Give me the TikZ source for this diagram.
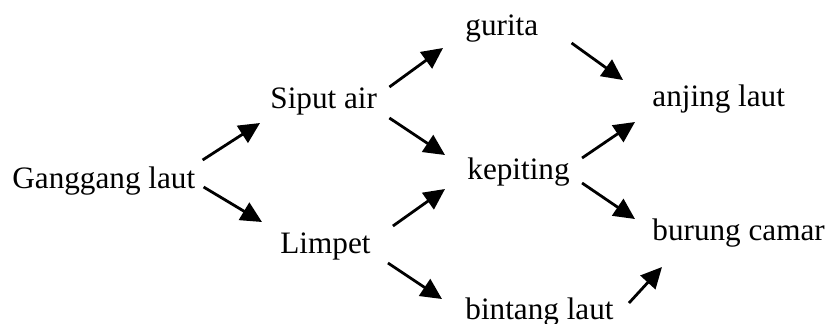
\documentclass[tikz,border=0pt]{standalone}
\usepackage{fontspec}
\setmainfont{Liberation Serif}
\usetikzlibrary{arrows.meta,calc}
\begin{document}
\begin{tikzpicture}[x=0.5pt,y=-0.5pt,
  lbl/.style={anchor=base west,inner sep=0pt,font=\fontsize{15.6pt}{18pt}\selectfont},
  arr/.style={line width=1.4pt,-{Triangle[length=10.5pt,width=10pt]}}]
\useasboundingbox[fill=white] (0,0) rectangle (828,323);
% species
\node[lbl] (gl) at (12,188) {Ganggang laut};
\node[lbl] (sa) at (270,108) {Siput air};
\node[lbl] (li) at (280,253) {Limpet};
\node[lbl] (gu) at (465,35) {gurita};
\node[lbl] (ke) at (467,179) {kepiting};
\node[lbl] (an) at (652,106) {anjing laut};
\node[lbl] (bi) at (465,319) {bintang laut};
\node[lbl] (bu) at (652,240) {burung camar};
% feeding links
\draw[arr] ($(gl.base east)+(7,-28)$) -- ($(sa.base west)+(-10,15)$);
\draw[arr] ($(gl.base east)+(8,-1)$) -- ($(li.base west)+(-18,-31)$);
\draw[arr] ($(sa.base east)+(12,-21)$) -- ($(gu.base west)+(-22,13)$);
\draw[arr] ($(sa.base east)+(12,10)$) -- ($(ke.base west)+(-22,-24)$);
\draw[arr] ($(li.base east)+(22,-27)$) -- ($(ke.base west)+(-22,10)$);
\draw[arr] ($(li.base east)+(17,10)$) -- ($(bi.base west)+(-23,-20)$);
\draw[arr] ($(gu.base east)+(33,8)$) -- ($(an.base west)+(-29,-26)$);
\draw[arr] ($(ke.base east)+(12,-21)$) -- ($(an.base west)+(-17,16)$);
\draw[arr] ($(ke.base east)+(12,4)$) -- ($(bu.base west)+(-17,-21)$);
\draw[arr] ($(bi.base east)+(15,-16)$) -- ($(bu.base west)+(10,27)$);
\end{tikzpicture}
\end{document}
